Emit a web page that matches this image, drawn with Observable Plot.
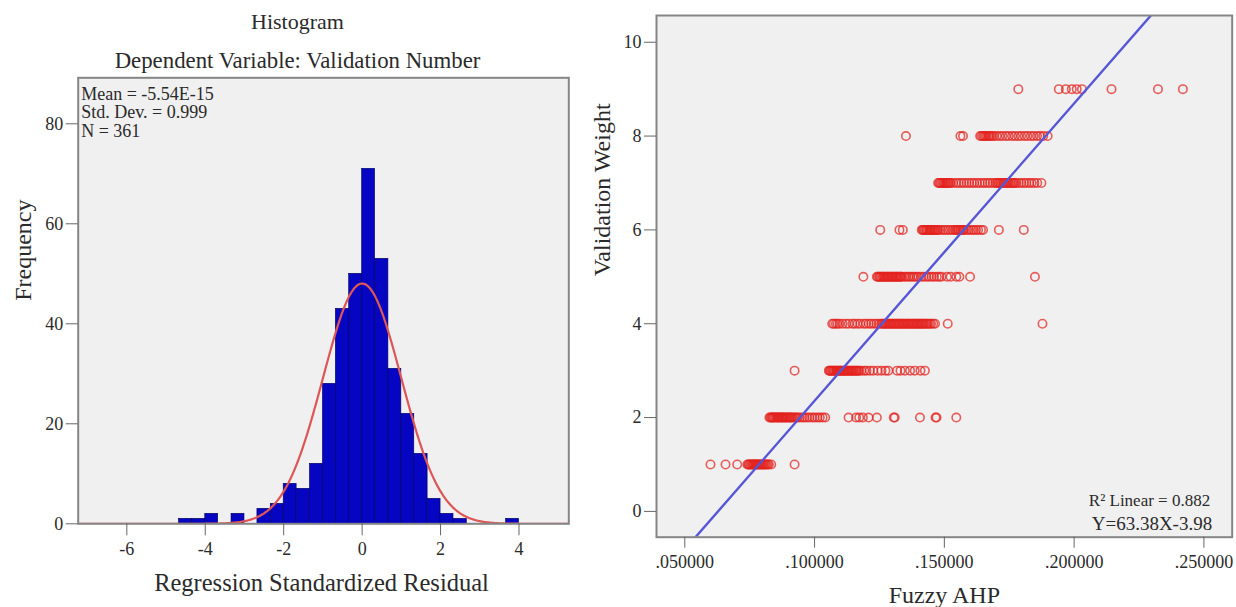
<!DOCTYPE html>
<html><head><meta charset="utf-8">
<script src="https://cdn.jsdelivr.net/npm/d3@7"></script>
<script src="https://cdn.jsdelivr.net/npm/@observablehq/plot@0.6"></script>
<style>
body{margin:0;background:#fff;}
#wrap{position:relative;width:1236px;height:607px;overflow:hidden;background:#fff;}
#left{position:absolute;left:0;top:0;}
#right{position:absolute;left:580px;top:0;}
</style></head><body>
<div id="wrap"><div id="left"></div><div id="right"></div></div>
<script>
// ---------- Histogram data ----------
const binStart = [-4.67,-4.33,-4.00,-3.33,-2.67,-2.33,-2.00,-1.67,-1.33,-1.00,-0.67,-0.33,0.00,0.33,0.67,1.00,1.33,1.67,2.00,2.33,3.67];
const binEnd   = [-4.33,-4.00,-3.67,-3.00,-2.33,-2.00,-1.67,-1.33,-1.00,-0.67,-0.33,0.00,0.33,0.67,1.00,1.33,1.67,2.00,2.33,2.67,4.00];
const binCount = [1,1,2,2,3,4,8,7,12,28,43,50,71,53,31,22,14,5,2,1,1];
const histXTicks = [-6,-4,-2,0,2,4];
const histYTicks = [0,20,40,60,80];
const statMean = -5.54e-15, statSD = 0.999, statN = 361, binWidth = 1/3;
const statsLines = ["Mean = -5.54E-15", "Std. Dev. = 0.999", "N = 361"];

// ---------- Scatter data (Fuzzy AHP values per Validation Weight level) ----------
const w1 = [0.0599,0.0657,0.0702,0.0741,0.0745,0.0748,0.0752,0.0756,0.0760,0.0763,0.0766,0.0769,0.0773,0.0776,0.0780,0.0783,0.0787,0.0791,0.0795,0.0798,0.0803,0.0807,0.0811,0.0815,0.0820,0.0824,0.0833,0.0923];
const w2 = [0.0826,0.0830,0.0834,0.0837,0.0840,0.0844,0.0848,0.0852,0.0856,0.0859,0.0862,0.0866,0.0871,0.0874,0.0877,0.0881,0.0886,0.0889,0.0893,0.0897,0.0902,0.0905,0.0909,0.0913,0.0918,0.0925,0.0930,0.0935,0.0943,0.0953,0.0961,0.0971,0.0980,0.0991,0.1000,0.1011,0.1020,0.1031,0.1041,0.1131,0.1160,0.1172,0.1186,0.1208,0.1240,0.1305,0.1309,0.1406,0.1466,0.1470,0.1546];
const w3 = [0.0923,0.1055,0.1058,0.1061,0.1065,0.1069,0.1072,0.1075,0.1079,0.1083,0.1086,0.1089,0.1093,0.1097,0.1100,0.1103,0.1107,0.1111,0.1114,0.1117,0.1121,0.1125,0.1128,0.1131,0.1136,0.1140,0.1144,0.1147,0.1152,0.1156,0.1160,0.1163,0.1168,0.1172,0.1180,0.1191,0.1200,0.1213,0.1226,0.1243,0.1258,0.1273,0.1284,0.1318,0.1331,0.1348,0.1368,0.1386,0.1408,0.1425];
const w4 = [0.1068,0.1074,0.1082,0.1088,0.1096,0.1108,0.1121,0.1132,0.1146,0.1155,0.1166,0.1176,0.1189,0.1198,0.1209,0.1218,0.1229,0.1238,0.1248,0.1256,0.1261,0.1266,0.1270,0.1274,0.1279,0.1284,0.1288,0.1292,0.1297,0.1302,0.1306,0.1310,0.1315,0.1320,0.1324,0.1328,0.1333,0.1338,0.1342,0.1346,0.1351,0.1356,0.1360,0.1364,0.1369,0.1374,0.1378,0.1382,0.1387,0.1392,0.1396,0.1400,0.1405,0.1410,0.1414,0.1418,0.1423,0.1429,0.1433,0.1438,0.1444,0.1449,0.1457,0.1464,0.1513,0.1878];
const w5 = [0.1188,0.1240,0.1244,0.1249,0.1252,0.1256,0.1261,0.1265,0.1268,0.1272,0.1277,0.1281,0.1284,0.1288,0.1293,0.1297,0.1300,0.1304,0.1309,0.1313,0.1316,0.1320,0.1325,0.1329,0.1332,0.1336,0.1345,0.1352,0.1361,0.1368,0.1377,0.1384,0.1393,0.1400,0.1411,0.1420,0.1431,0.1440,0.1451,0.1460,0.1471,0.1480,0.1489,0.1510,0.1524,0.1546,0.1558,0.1599,0.1849];
const w6 = [0.1253,0.1327,0.1340,0.1413,0.1417,0.1420,0.1424,0.1429,0.1432,0.1436,0.1441,0.1445,0.1448,0.1452,0.1457,0.1461,0.1464,0.1468,0.1473,0.1478,0.1486,0.1496,0.1504,0.1514,0.1522,0.1532,0.1540,0.1545,0.1550,0.1554,0.1558,0.1563,0.1568,0.1572,0.1576,0.1586,0.1594,0.1604,0.1612,0.1622,0.1630,0.1641,0.1649,0.1710,0.1806];
const w7 = [0.1476,0.1480,0.1484,0.1488,0.1493,0.1497,0.1500,0.1505,0.1509,0.1513,0.1516,0.1521,0.1525,0.1534,0.1546,0.1555,0.1566,0.1575,0.1586,0.1595,0.1606,0.1615,0.1626,0.1636,0.1647,0.1656,0.1667,0.1676,0.1687,0.1696,0.1702,0.1707,0.1712,0.1716,0.1722,0.1727,0.1731,0.1736,0.1741,0.1747,0.1751,0.1756,0.1762,0.1767,0.1771,0.1776,0.1787,0.1796,0.1807,0.1816,0.1827,0.1836,0.1847,0.1858,0.1874];
const w8 = [0.1352,0.1562,0.1572,0.1638,0.1643,0.1649,0.1653,0.1658,0.1663,0.1669,0.1673,0.1678,0.1684,0.1691,0.1702,0.1713,0.1724,0.1737,0.1748,0.1761,0.1772,0.1785,0.1796,0.1809,0.1820,0.1833,0.1844,0.1857,0.1868,0.1881,0.1898];
const w9 = [0.1785,0.1941,0.1968,0.1991,0.2010,0.2030,0.2144,0.2323,0.2419];
const weightLevels = [1,2,3,4,5,6,7,8,9];
const scatXTicks = [0.05,0.10,0.15,0.20,0.25];
const scatYTicks = [0,2,4,6,8,10];
const regSlope = 63.38, regIntercept = -3.98;
const r2Label = "R\u00B2 Linear = 0.882";
const eqLabel = "Y=63.38X-3.98";

// ---------- Build tables ----------
const bins = binCount.map((c, i) => ({x1: binStart[i], x2: binEnd[i], y: c}));
const hxDomain = [-7.24, 5.27];
const curve = d3.range(hxDomain[0], hxDomain[1] + 0.001, 0.02).map(x => ({
  x, y: statN * binWidth * Math.exp(-0.5 * ((x - statMean) / statSD) ** 2) / (statSD * Math.sqrt(2 * Math.PI))
}));
const points = [w1,w2,w3,w4,w5,w6,w7,w8,w9].flatMap((arr, i) => arr.map(v => ({x: v, y: weightLevels[i]})));
const sxDomain = [0.0391, 0.2609];
const regLine = sxDomain.map(x => ({x, y: regSlope * x + regIntercept}));

const FONT = "'Liberation Serif', 'Times New Roman', serif";
const TXT = "#2a2a2a";

// ---------- Left: histogram ----------
const left = Plot.plot({
  width: 580, height: 607,
  marginLeft: 77.7, marginRight: 11.7, marginTop: 77.3, marginBottom: 83.7,
  style: {fontFamily: FONT, fontSize: "18px", color: TXT, background: "transparent", overflow: "visible"},
  x: {domain: hxDomain},
  y: {domain: [0, 89.2]},
  marks: [
    Plot.frame({fill: "#f0f0f0", stroke: null}),
    Plot.rectY(bins, {x1: "x1", x2: "x2", y: "y", fill: "#0606c2", stroke: "#00005a", strokeWidth: 0.6}),
    Plot.line(curve, {x: "x", y: "y", stroke: "#de5656", strokeWidth: 2.2, clip: true}),
    Plot.frame({stroke: "#858585", strokeWidth: 2}),
    Plot.axisX({ticks: histXTicks, tickSize: 12, tickPadding: 6, label: null, stroke: "#666", fill: TXT, fontSize: 18, tickFormat: d => String(d).replace("\u2212","-")}),
    Plot.axisY({ticks: histYTicks, tickSize: 12, tickPadding: 3, label: null, stroke: "#666", fill: TXT, fontSize: 18}),
    Plot.text([statsLines.join("\n")], {frameAnchor: "top-left", textAnchor: "start", lineAnchor: "top", dx: 3, dy: 9, fontSize: 18, lineHeight: 1.02, fill: TXT}),
    Plot.text(["Histogram"], {frameAnchor: "top", lineAnchor: "bottom", dx: -26, dy: -48.5, fontSize: 22, fill: TXT}),
    Plot.text(["Dependent Variable: Validation Number"], {frameAnchor: "top", lineAnchor: "bottom", dx: -26, dy: -9.5, fontSize: 22.8, fill: TXT}),
    Plot.text(["Regression Standardized Residual"], {frameAnchor: "bottom", lineAnchor: "bottom", dx: -2, dy: 66.7, fontSize: 24.5, fill: TXT}),
    Plot.text(["Frequency"], {frameAnchor: "left", lineAnchor: "bottom", rotate: -90, dx: -47, fontSize: 24, fill: TXT})
  ]
});
document.getElementById("left").appendChild(left);

// ---------- Right: scatter ----------
const right = Plot.plot({
  width: 656, height: 607,
  marginLeft: 76, marginRight: 4.3, marginTop: 15, marginBottom: 70.3,
  style: {fontFamily: FONT, fontSize: "18px", color: TXT, background: "transparent", overflow: "visible"},
  x: {domain: sxDomain},
  y: {domain: [-0.55, 10.57]},
  marks: [
    Plot.frame({fill: "#f0f0f0", stroke: null}),
    Plot.dot(points, {x: "x", y: "y", r: 4.2, stroke: "#e3231f", strokeWidth: 1.6, strokeOpacity: 0.72, fill: "none"}),
    Plot.line(regLine, {x: "x", y: "y", stroke: "#5656d8", strokeWidth: 2.4, clip: true}),
    Plot.frame({stroke: "#858585", strokeWidth: 2}),
    Plot.axisX({ticks: scatXTicks, tickSize: 11, tickPadding: 7, label: null, stroke: "#666", fill: TXT, fontSize: 18, tickFormat: d => "." + d.toFixed(6).slice(2)}),
    Plot.axisY({ticks: scatYTicks, tickSize: 12, tickPadding: 3, label: null, stroke: "#666", fill: TXT, fontSize: 18}),
    Plot.text([r2Label], {frameAnchor: "bottom-right", textAnchor: "end", lineAnchor: "bottom", dx: -22, dy: -31.5, fontSize: 17, fill: TXT}),
    Plot.text([eqLabel], {frameAnchor: "bottom-right", textAnchor: "end", lineAnchor: "bottom", dx: -20, dy: -7, fontSize: 19, fill: TXT}),
    Plot.text(["Fuzzy AHP"], {frameAnchor: "bottom", lineAnchor: "bottom", dy: 65.5, fontSize: 24, fill: TXT}),
    Plot.text(["Validation Weight"], {frameAnchor: "left", lineAnchor: "bottom", rotate: -90, dx: -47, fontSize: 24, fill: TXT})
  ]
});
document.getElementById("right").appendChild(right);
</script>
</body></html>
